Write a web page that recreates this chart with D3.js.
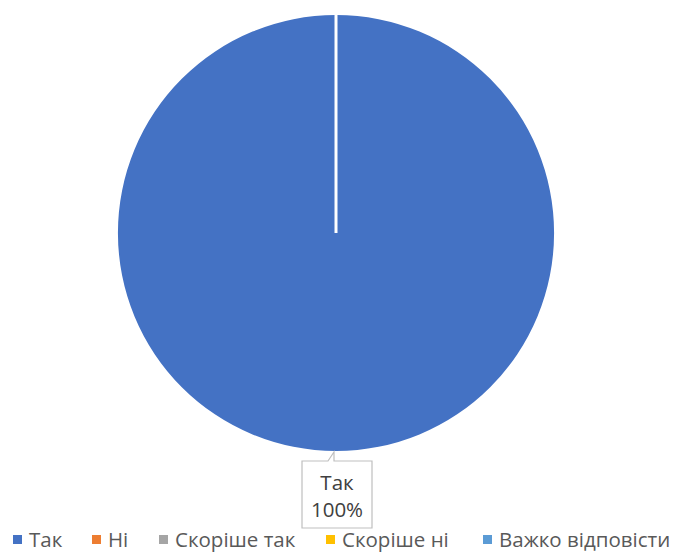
<!DOCTYPE html>
<html>
<head>
<meta charset="utf-8">
<script src="https://cdn.jsdelivr.net/npm/d3@7"></script>
<style>
  body { margin: 0; background: #fff; }
  text { font-family: "Open Sans", sans-serif; }
</style>
</head>
<body>
<div id="chart"></div>
<script>
var categories = ["Так", "Ні", "Скоріше так", "Скоріше ні", "Важко відповісти"];
var values = [100, 0, 0, 0, 0];
var colors = ["#4472C4", "#ED7D31", "#A5A5A5", "#FFC000", "#5B9BD5"];

var width = 678;
var height = 554;
var cx = 336, cy = 233, radius = 218;

var svg = d3.select("#chart")
  .append("svg")
  .attr("width", width)
  .attr("height", height);

var color = d3.scaleOrdinal().domain(categories).range(colors);

var pie = d3.pie().sort(null).value(function (d, i) { return values[i]; });
var arcs = pie(categories);
var total = d3.sum(values);

var arc = d3.arc().innerRadius(0).outerRadius(radius);

var g = svg.append("g").attr("transform", "translate(" + cx + "," + cy + ")");

/* slices */
g.selectAll(".slice")
  .data(arcs.filter(function (d) { return d.value > 0; }))
  .enter()
  .append("path")
  .attr("class", "slice")
  .attr("d", arc)
  .attr("fill", function (d) { return color(d.data); });

/* white slice borders (edges from centre) */
g.selectAll(".edge")
  .data(arcs.filter(function (d) { return d.value > 0; }))
  .enter()
  .append("line")
  .attr("x1", 0).attr("y1", 0)
  .attr("x2", function (d) { return Math.sin(d.startAngle) * (radius + 1); })
  .attr("y2", function (d) { return -Math.cos(d.startAngle) * (radius + 1); })
  .attr("stroke", "#fff")
  .attr("stroke-width", 3);

/* data label callout */
arcs.filter(function (d) { return d.value > 0; }).forEach(function (d) {
  var bx = 302, by = 461, bw = 70, bh = 67;
  var tipX = cx - 2, tipY = cy + radius + 1;
  var p = d3.path();
  p.moveTo(bx, by);
  p.lineTo(cx - 8, by);
  p.lineTo(tipX, tipY);
  p.lineTo(cx - 2, by);
  p.lineTo(bx + bw, by);
  p.lineTo(bx + bw, by + bh);
  p.lineTo(bx, by + bh);
  p.closePath();
  svg.append("path")
    .attr("d", p.toString())
    .attr("fill", "#fff")
    .attr("stroke", "#BFBFBF")
    .attr("stroke-width", 1.2);
  var lbl = svg.append("text")
    .attr("text-anchor", "middle")
    .attr("fill", "#404040")
    .style("font-size", "20.5px");
  lbl.append("tspan").attr("x", bx + bw / 2).attr("y", 490).text(d.data);
  lbl.append("tspan").attr("x", bx + bw / 2).attr("y", 517)
    .text(d3.format(".0%")(d.value / total));
});

/* legend */
var legendX = [13, 92, 159, 326, 483];
var legend = svg.append("g").attr("class", "legend");
var items = legend.selectAll(".item")
  .data(categories)
  .enter()
  .append("g")
  .attr("transform", function (d, i) { return "translate(" + legendX[i] + ",547)"; });

items.append("rect")
  .attr("x", 0).attr("y", -12)
  .attr("width", 9).attr("height", 9)
  .attr("fill", function (d) { return color(d); });

items.append("text")
  .attr("x", 16)
  .attr("y", 0)
  .attr("fill", "#595959")
  .style("font-size", "20.5px")
  .text(function (d) { return d; });
</script>
</body>
</html>
